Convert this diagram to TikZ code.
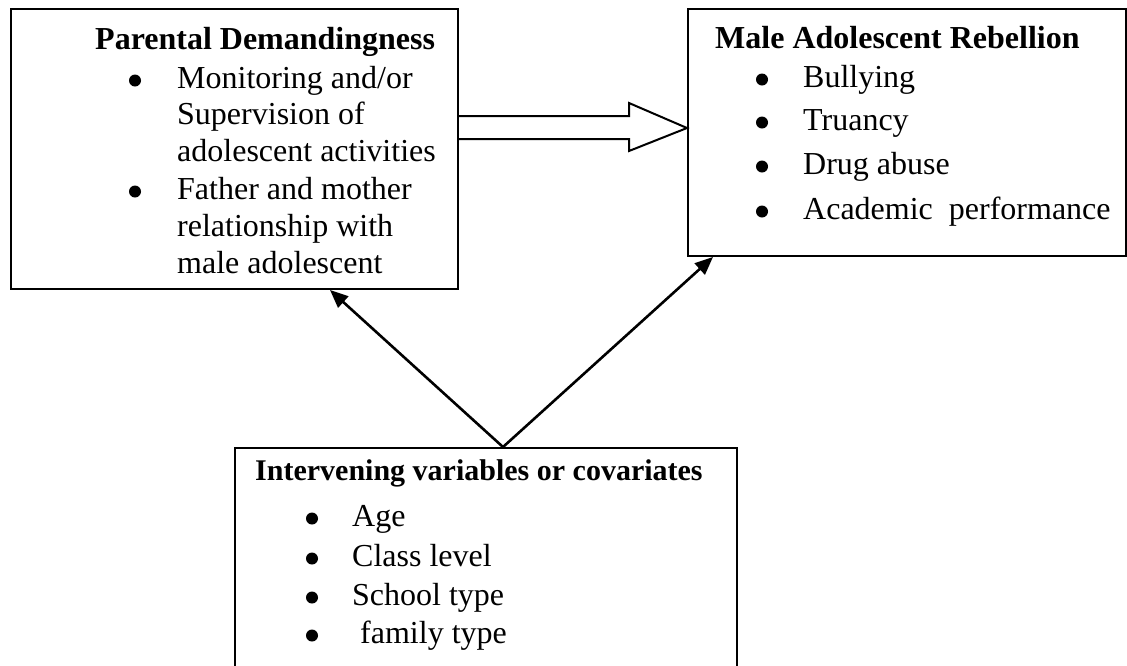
\documentclass[tikz,border=0pt]{standalone}
\usepackage{fontspec}
\setmainfont{Liberation Serif}
\usetikzlibrary{arrows.meta}
\begin{document}
\begin{tikzpicture}[x=1pt,y=-1pt,
  box/.style={draw,line width=2pt,anchor=north west,inner sep=0pt},
  txt/.style={anchor=base west,inner sep=0pt,font=\fontsize{32}{37}\selectfont},
  ttl/.style={txt,font=\fontsize{32}{37}\selectfont\bfseries},
  arr/.style={line width=2.6pt,-{Triangle[length=18pt,width=15pt]}},
  bul/.style={fill=black}]
\useasboundingbox (0,0) rectangle (1127,665);
\clip (0,0) rectangle (1127,665);
\fill[white] (0,0) rectangle (1127,665);
% boxes
\node[box,minimum width=447pt,minimum height=280pt] (pd) at (10,8) {};
\node[box,minimum width=438pt,minimum height=247pt] (mr) at (687,8) {};
\node[box,minimum width=502pt,minimum height=260pt] (iv) at (234,447) {};
% left box text
\node[ttl] (pdt) at (95,49) {Parental Demandingness};
\node[txt] (pd1) at (177,88) {Monitoring and/or};
\node[txt] (pd2) at (177,124) {Supervision of};
\node[txt] (pd3) at (177,161) {adolescent activities};
\node[txt] (pd4) at (177,199) {Father and mother};
\node[txt] (pd5) at (177,236) {relationship with};
\node[txt] (pd6) at (177,273) {male adolescent};
\fill[bul] (135,80.5) circle (6);
\fill[bul] (135,191.5) circle (6);
% right box text
\node[ttl] (mrt) at (715,48) {Male Adolescent Rebellion};
\node[txt] (mr1) at (803,87) {Bullying};
\node[txt] (mr2) at (803,130) {Truancy};
\node[txt] (mr3) at (803,174) {Drug abuse};
\node[txt] (mr4) at (803,219) {Academic\ \ performance};
\fill[bul] (762,79.5) circle (6);
\fill[bul] (762,122.5) circle (6);
\fill[bul] (762,166.5) circle (6);
\fill[bul] (762,211.5) circle (6);
% bottom box text
\node[ttl,font=\fontsize{30}{37}\selectfont\bfseries] (ivt) at (255,480) {Intervening variables or covariates};
\node[txt] (iv1) at (352,526) {Age};
\node[txt] (iv2) at (352,566) {Class level};
\node[txt] (iv3) at (352,605) {School type};
\node[txt] (iv4) at (352,643) {\ family type};
\fill[bul] (312,518.5) circle (6);
\fill[bul] (312,558.5) circle (6);
\fill[bul] (312,597.5) circle (6);
\fill[bul] (312,635.5) circle (6);
% hollow arrow
\draw[line width=2pt,fill=white,line join=miter]
  (pd.east |- 0,116) -- (629,116) -- (629,103) -- (mr.west |- 0,128)
  -- (629,151) -- (629,139) -- (pd.east |- 0,139);
% thin arrows
\coordinate (src) at (503,447);
\coordinate (ltip) at (330,290);
\coordinate (rtip) at (713,257);
\draw[arr] (src) -- (ltip);
\draw[arr] (src) -- (rtip);
\end{tikzpicture}
\end{document}
